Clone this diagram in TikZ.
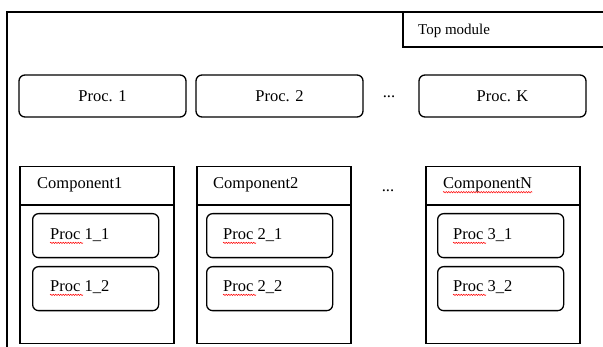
\documentclass[tikz,border=0pt]{standalone}
\usepackage{fontspec}
\setmainfont{Liberation Serif}
\usetikzlibrary{decorations.pathmorphing}
\begin{document}
\begin{tikzpicture}[x=1pt,y=-1pt,
 every node/.style={font=\fontsize{16.5}{19}\selectfont},
 frame/.style={line width=1.6pt},
 procbox/.style={draw, rounded corners=6pt, line width=1.3pt, minimum width=167pt, minimum height=42pt, inner sep=0pt},
 compbox/.style={draw, line width=1.5pt, minimum width=154pt, minimum height=177pt, anchor=north west, inner sep=0pt},
 headline/.style={line width=1.5pt},
 subbox/.style={draw, rounded corners=6pt, line width=1.3pt, minimum width=126pt, minimum height=44pt, anchor=north west, inner sep=0pt},
 txt/.style={inner sep=0pt, anchor=west},
 squig/.style={draw=red, line width=0.5pt, decorate, decoration={snake, segment length=2.5pt, amplitude=0.7pt}}
]
\useasboundingbox (0,0) rectangle (603,347);
% outer frame
\coordinate (fbl) at (7,347);
\coordinate (ftl) at (7,12);
\coordinate (ftr) at (603,12);
\draw[frame] (fbl) -- (ftl) -- (ftr);
% top module tab
\coordinate (tml) at (403,12);
\coordinate (tmb) at (403,47);
\coordinate (tmr) at (603,47);
\draw[line width=1.4pt] (tml) -- (tmb) -- (tmr);
\node[txt, font=\fontsize{15}{18}\selectfont] (topt) at (418,31) {Top module};
% processes
\node[procbox] (pa) at (102.5,96) {Proc. 1};
\node[procbox] (pb) at (279.5,96) {Proc. 2};
\node[inner sep=0pt] (dots1) at (389,97) {...};
\node[procbox] (pk) at (502.5,96) {Proc. K};
% component 1
\node[compbox] (c1) at (19,166) {};
\coordinate (c1l) at (19,205);
\coordinate (c1r) at (173,205);
\draw[headline] (c1l) -- (c1r);
\node[txt] (c1t) at (37,185) {Component1};
\node[subbox] (s11) at (32,213) {};
\node[txt] (s11t) at (50,235) {Proc 1\_1};
\draw[squig] ([yshift=-3.5pt]s11t.base west) -- ++(33,0);
\node[subbox] (s12) at (32,266) {};
\node[txt] (s12t) at (50,287) {Proc 1\_2};
\draw[squig] ([yshift=-3.5pt]s12t.base west) -- ++(33,0);
% component 2
\node[compbox] (c2) at (196,166) {};
\coordinate (c2l) at (196,205);
\coordinate (c2r) at (350,205);
\draw[headline] (c2l) -- (c2r);
\node[txt] (c2t) at (213,185) {Component2};
\node[subbox] (s21) at (206,213) {};
\node[txt] (s21t) at (223,235) {Proc 2\_1};
\draw[squig] ([yshift=-3.5pt]s21t.base west) -- ++(33,0);
\node[subbox] (s22) at (206,266) {};
\node[txt] (s22t) at (223,287) {Proc 2\_2};
\draw[squig] ([yshift=-3.5pt]s22t.base west) -- ++(33,0);
% dots
\node[inner sep=0pt] (dots2) at (388,191) {...};
% component N
\node[compbox] (c3) at (425,166) {};
\coordinate (c3l) at (425,205);
\coordinate (c3r) at (580,205);
\draw[headline] (c3l) -- (c3r);
\node[txt] (c3t) at (443,185) {ComponentN};
\draw[squig] ([yshift=-3.5pt]c3t.base west) -- ([yshift=-3.5pt]c3t.base east);
\node[subbox] (s31) at (437,213) {};
\node[txt] (s31t) at (453,235) {Proc 3\_1};
\draw[squig] ([yshift=-3.5pt]s31t.base west) -- ++(33,0);
\node[subbox] (s32) at (437,266) {};
\node[txt] (s32t) at (453,287) {Proc 3\_2};
\draw[squig] ([yshift=-3.5pt]s32t.base west) -- ++(33,0);
\end{tikzpicture}
\end{document}
